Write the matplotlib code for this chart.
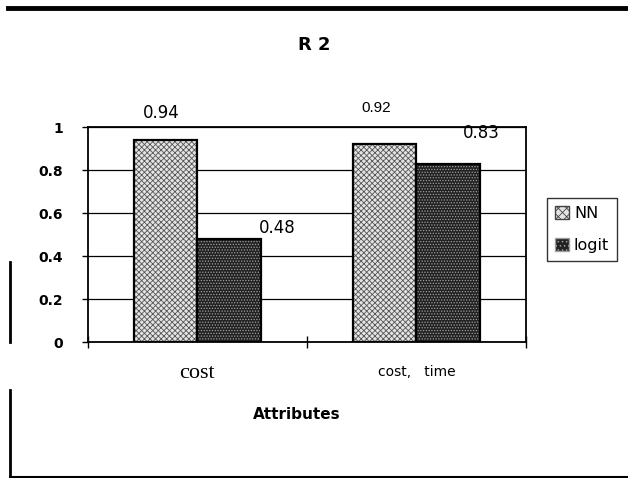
import matplotlib
matplotlib.use("Agg")
import matplotlib.pyplot as plt
from matplotlib.lines import Line2D
from matplotlib.patches import Patch

# data
categories = ["cost", "cost,   time"]
series_names = ["NN", "logit"]
nn_values = [0.94, 0.92]
logit_values = [0.48, 0.83]
y_ticks = [0, 0.2, 0.4, 0.6, 0.8, 1]
y_ticklabels = ["0", "0.2", "0.4", "0.6", "0.8", "1"]

plt.rcParams["hatch.linewidth"] = 0.6

fig = plt.figure(figsize=(6.28, 4.78), dpi=100)
ax = fig.add_axes([0.140, 0.2845, 0.6975, 0.4498])

x = list(range(len(categories)))
w = 0.29
nn_x = [i - w / 2 for i in x]
lg_x = [i + w / 2 for i in x]

# patterned fills, then black outlines on top
ax.bar(nn_x, nn_values, w, color="#e4e4e4", edgecolor="#555555",
       hatch="xxxxxx", linewidth=0, zorder=3)
ax.bar(nn_x, nn_values, w, fill=False, edgecolor="black", linewidth=1.6, zorder=4)
ax.bar(lg_x, logit_values, w, color="#222222", edgecolor="#a0a0a0",
       hatch="......", linewidth=0, zorder=3)
ax.bar(lg_x, logit_values, w, fill=False, edgecolor="black", linewidth=1.6, zorder=4)

# value labels (placed as in the scan)
ax.text(nn_x[0] - 0.02, 1.0 + 0.065, "%.2f" % nn_values[0], ha="center",
        va="center", fontsize=12)
ax.text(lg_x[0] + 0.22, 0.53, "%.2f" % logit_values[0], ha="center",
        va="center", fontsize=12)
ax.text(nn_x[1] - 0.04, 1.09, "%.2f" % nn_values[1], ha="center",
        va="center", fontsize=11, family="Liberation Sans")
ax.text(lg_x[1] + 0.15, 0.972, "%.2f" % logit_values[1], ha="center",
        va="center", fontsize=12, zorder=5)

ax.set_xlim(-0.5, 1.5)
ax.set_ylim(0, 1)
ax.set_yticks(y_ticks)
ax.set_yticklabels(y_ticklabels, fontweight="bold", fontsize=10)
ax.yaxis.grid(True, color="black", linewidth=0.9, zorder=0)
ax.set_axisbelow(True)
ax.tick_params(axis="y", length=4, width=1, pad=14)
for sp in ax.spines.values():
    sp.set_linewidth(1.3)

ax.set_xticks([-0.5, 0.5, 1.5])
ax.set_xticklabels([])
ax.tick_params(axis="x", direction="inout", length=8, width=1)
ax.text(x[0], -0.10, categories[0], ha="center", va="top", fontsize=16,
        family="Liberation Serif", transform=ax.get_xaxis_transform())
ax.text(x[1], -0.105, categories[1], ha="center", va="top", fontsize=10,
        family="DejaVu Sans", transform=ax.get_xaxis_transform())

fig.text(0.5, 0.905, "R 2", ha="center", va="center", fontsize=13,
         fontweight="bold")
fig.text(0.472, 0.132, "Attributes", ha="center", va="center", fontsize=11,
         fontweight="bold")

# legend
handles = [Patch(facecolor="#e4e4e4", edgecolor="#444444", hatch="xxxx"),
           Patch(facecolor="#222222", edgecolor="#a0a0a0", hatch="....")]
leg = fig.legend(handles, series_names, loc="center left",
                 bbox_to_anchor=(0.858, 0.52), frameon=True, fancybox=False,
                 edgecolor="black", fontsize=11.5, handlelength=0.9,
                 handleheight=0.9, handletextpad=0.3, labelspacing=1.1,
                 borderpad=0.5)
leg.get_frame().set_linewidth(1.0)

# page rules from the scan
fig.add_artist(Line2D([0.013, 1.0], [0.983, 0.983], color="black", lw=3.5))
fig.add_artist(Line2D([0.016, 0.016], [0.285, 0.452], color="black", lw=2))
fig.add_artist(Line2D([0.016, 0.016], [0.0, 0.185], color="black", lw=2))
fig.add_artist(Line2D([0.016, 1.0], [0.003, 0.003], color="black", lw=1.5))

fig.savefig("out.png", dpi=100)
